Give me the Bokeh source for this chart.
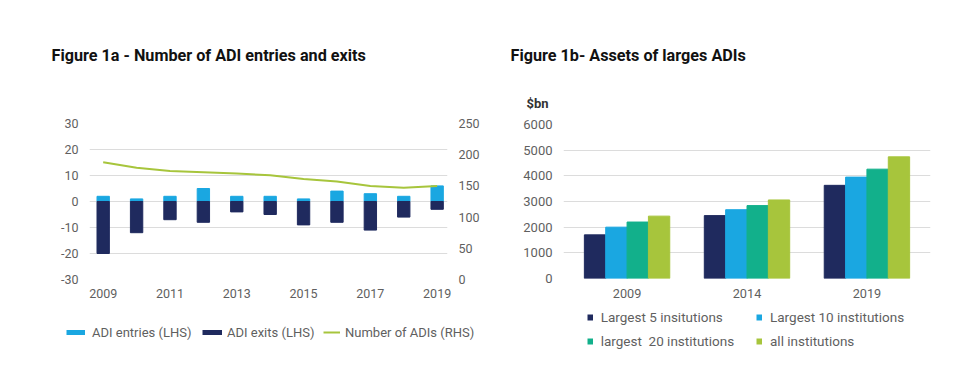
from bokeh.plotting import figure
from bokeh.layouts import row, column
from bokeh.models import (Range1d, LinearAxis, FixedTicker, Legend, LegendItem,
                          Label, FactorRange)
from bokeh.transform import dodge
from bokeh.embed import file_html
from bokeh.resources import INLINE

# ---------------- data ----------------
years = [2009, 2010, 2011, 2012, 2013, 2014, 2015, 2016, 2017, 2018, 2019]
adi_entries = [2, 1, 2, 5, 2, 2, 1, 4, 3, 2, 6]
adi_exits = [-20, -12, -7, -8, -4, -5, -9, -8, -11, -6, -3]
num_adis = [188, 179, 174, 172, 170, 167, 161, 157, 150, 147, 150]
left_ticks = [-30, -20, -10, 0, 10, 20, 30]
right_ticks = [0, 50, 100, 150, 200, 250]
year_ticks = [2009, 2011, 2013, 2015, 2017, 2019]

asset_years = ["2009", "2014", "2019"]
largest5 = [1700, 2450, 3630]
largest10 = [2000, 2680, 3950]
largest20 = [2200, 2840, 4260]
all_inst = [2430, 3060, 4740]
asset_ticks = [0, 1000, 2000, 3000, 4000, 5000, 6000]

NAVY = "#1f2a5e"
CYAN = "#1aa7e1"
TEAL = "#12b08b"
LIME = "#a7c53c"
GRID = "#dcdcdc"
TICK_TXT = "#5f5f5f"
FONT = "Roboto"


def blank_fig(w, h):
    f = figure(width=w, height=h, output_backend="svg", toolbar_location=None,
               x_range=Range1d(0, 1), y_range=Range1d(0, 1),
               min_border=0, min_border_left=0, min_border_right=0,
               min_border_top=0, min_border_bottom=0)
    f.axis.visible = False
    f.grid.visible = False
    f.outline_line_color = None
    return f


def style_axis(ax, size, standoff):
    ax.axis_line_color = None
    ax.major_tick_line_color = None
    ax.minor_tick_line_color = None
    ax.major_tick_out = 0
    ax.major_tick_in = 0
    ax.major_label_text_font = FONT
    ax.major_label_text_font_size = size
    ax.major_label_text_color = TICK_TXT
    ax.major_label_standoff = standoff


def text_label(x, y, text, size, color="#111111", bold=True, baseline="alphabetic"):
    return Label(x=x, y=y, x_units="screen", y_units="screen", text=text,
                 text_font=FONT, text_font_style="bold" if bold else "normal",
                 text_font_size=size, text_color=color, text_baseline=baseline)


def mk_legend(items, loc, glyph_w, standoff, size, spacing=0):
    return Legend(items=items, location=loc, orientation="vertical",
                  glyph_width=glyph_w, glyph_height=14, label_height=14,
                  label_standoff=standoff, padding=0, margin=0,
                  spacing=spacing, border_line_color=None, background_fill_alpha=0,
                  label_text_font=FONT, label_text_font_size=size,
                  label_text_color=TICK_TXT)


# ================= Figure 1a =================
t1 = blank_fig(490, 100)
t1.add_layout(text_label(51, 45, "Figure 1a - Number of ADI entries and exits", "16.2px"))

p1 = figure(width=490, height=210, output_backend="svg", toolbar_location=None,
            x_range=Range1d(2008.59, 2019.31), y_range=Range1d(-30, 30),
            min_border_left=89, min_border_right=43, min_border_top=23,
            min_border_bottom=31)
p1.outline_line_color = None
p1.extra_y_ranges = {"rhs": Range1d(0, 250)}

p1.vbar(x=years, top=adi_entries, bottom=0, width=0.37, color=CYAN)
p1.vbar(x=years, top=0, bottom=adi_exits, width=0.37, color=NAVY)
p1.line(x=years, y=num_adis, y_range_name="rhs", color=LIME, line_width=2)

rax = LinearAxis(y_range_name="rhs")
p1.add_layout(rax, "right")

style_axis(p1.xaxis[0], "12.5px", 9)
style_axis(p1.yaxis[0], "12.5px", 11)
style_axis(rax, "12.5px", 11)
p1.xaxis[0].ticker = FixedTicker(ticks=year_ticks)
p1.yaxis[0].ticker = FixedTicker(ticks=left_ticks)
p1.yaxis[0].major_label_overrides = {t: str(t) for t in left_ticks}
rax.ticker = FixedTicker(ticks=right_ticks)
p1.xgrid.grid_line_color = None
p1.ygrid.grid_line_color = GRID
p1.ygrid.ticker = FixedTicker(ticks=left_ticks)

# legend figure: proxy lines carry the series (drawn outside the visible range)
l1 = blank_fig(490, 75)
sw_entries = l1.line(x=years, y=adi_entries, color=CYAN, line_width=5)
sw_exits = l1.line(x=years, y=adi_exits, color=NAVY, line_width=5)
sw_adis = l1.line(x=years, y=num_adis, color=LIME, line_width=2)
l1.add_layout(mk_legend([LegendItem(label="ADI entries (LHS)", renderers=[sw_entries])],
                        (66, 45.5), 19, 7, "13px"))
l1.add_layout(mk_legend([LegendItem(label="ADI exits (LHS)", renderers=[sw_exits])],
                        (202, 45.5), 20, 5, "13px"))
l1.add_layout(mk_legend([LegendItem(label="Number of ADIs (RHS)", renderers=[sw_adis])],
                        (323, 45.5), 17, 5, "13px"))

# ================= Figure 1b =================
t2 = blank_fig(485, 115)
t2.add_layout(text_label(20, 60, "Figure 1b- Assets of larges ADIs", "16.2px"))
t2.add_layout(text_label(36, 12.5, "$bn", "13px", color="#333333"))

p2 = figure(width=485, height=193, output_backend="svg", toolbar_location=None,
            x_range=FactorRange(*asset_years, range_padding=0.02),
            y_range=Range1d(0, 6000),
            min_border_left=73, min_border_right=45, min_border_top=9,
            min_border_bottom=30)
p2.outline_line_color = None
src = dict(year=asset_years, l5=largest5, l10=largest10, l20=largest20, all=all_inst)
bw = 0.178
p2.vbar(x=dodge("year", -1.5 * bw, range=p2.x_range), top="l5", width=bw, color=NAVY, source=src)
p2.vbar(x=dodge("year", -0.5 * bw, range=p2.x_range), top="l10", width=bw, color=CYAN, source=src)
p2.vbar(x=dodge("year", 0.5 * bw, range=p2.x_range), top="l20", width=bw, color=TEAL, source=src)
p2.vbar(x=dodge("year", 1.5 * bw, range=p2.x_range), top="all", width=bw, color=LIME, source=src)

style_axis(p2.xaxis[0], "12.7px", 10)
style_axis(p2.yaxis[0], "13px", 11)
p2.yaxis[0].ticker = FixedTicker(ticks=asset_ticks)
p2.xgrid.grid_line_color = None
p2.ygrid.grid_line_color = GRID
p2.ygrid.ticker = FixedTicker(ticks=asset_ticks)

l2 = blank_fig(485, 77)
sq5 = l2.line(x=largest5, y=largest5, color=NAVY, line_width=6)
sq10 = l2.line(x=largest10, y=largest10, color=CYAN, line_width=6)
sq20 = l2.line(x=largest20, y=largest20, color=TEAL, line_width=6)
sqall = l2.line(x=all_inst, y=all_inst, color=LIME, line_width=6)
l2.add_layout(mk_legend([LegendItem(label="Largest 5 insitutions", renderers=[sq5]),
                         LegendItem(label="largest  20 institutions", renderers=[sq20])],
                        (96.7, 36.2), 6, 8, "13.5px", spacing=8))
l2.add_layout(mk_legend([LegendItem(label="Largest 10 institutions", renderers=[sq10]),
                         LegendItem(label="all institutions", renderers=[sqall])],
                        (266, 36.2), 6, 8, "13.5px", spacing=8))

layout = row(column(t1, row(p1), l1), column(t2, row(p2), l2))
open("out.html", "w").write(file_html(layout, INLINE))
